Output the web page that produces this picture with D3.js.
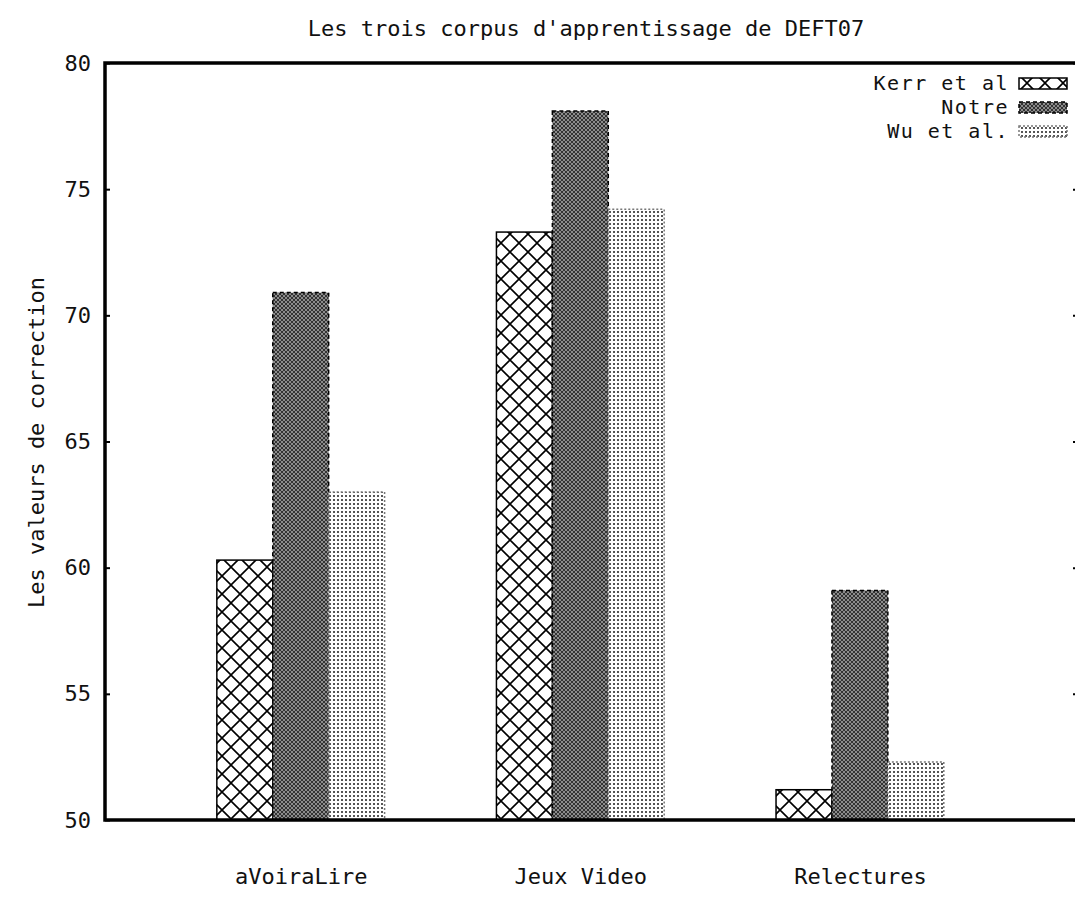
<!DOCTYPE html>
<html>
<head>
<meta charset="utf-8">
<script src="https://cdn.jsdelivr.net/npm/d3@7"></script>
<style>
  body { margin: 0; background: #fff; }
  text { font-family: "DejaVu Sans Mono", "Liberation Mono", monospace; fill: #111; }
</style>
</head>
<body>
<div id="chart"></div>
<script>
// Data
const categories = ['aVoiraLire', 'Jeux Video', 'Relectures'];
const seriesNames = ['Kerr et al', 'Notre', 'Wu et al.'];
const kerrValues = [60.3, 73.3, 51.2];
const notreValues = [70.9, 78.1, 59.1];
const wuValues = [63.0, 74.2, 52.3];
const yTicks = [50, 55, 60, 65, 70, 75, 80];

class GroupedBars {
  constructor(_config) {
    this.config = {
      parentElement: _config.parentElement,
      containerWidth: 1075,
      containerHeight: 899,
      margin: {top: 63, right: -3, bottom: 79, left: 105},
      barWidth: 0.2
    };
    this.initVis();
  }

  initVis() {
    let vis = this;
    vis.width = vis.config.containerWidth - vis.config.margin.left - vis.config.margin.right;
    vis.height = vis.config.containerHeight - vis.config.margin.top - vis.config.margin.bottom;

    vis.svg = d3.select(vis.config.parentElement).append('svg')
        .attr('width', vis.config.containerWidth)
        .attr('height', vis.config.containerHeight);

    vis.chart = vis.svg.append('g')
        .attr('transform', `translate(${vis.config.margin.left},${vis.config.margin.top})`);

    // category index on a linear scale, like gnuplot does it
    vis.xScale = d3.scaleLinear().domain([-0.7, 2.78]).range([0, vis.width]);
    vis.yScale = d3.scaleLinear().domain([50, 80]).range([vis.height, 0]);

    // fill patterns
    const defs = vis.svg.append('defs');
    const cross = defs.append('pattern').attr('id', 'p-cross')
        .attr('patternUnits', 'userSpaceOnUse').attr('width', 18).attr('height', 18);
    cross.append('rect').attr('width', 18).attr('height', 18).attr('fill', '#fff');
    cross.append('path').attr('d', 'M0,0L18,18M18,0L0,18M-2,2L2,-2M16,20L20,16')
        .attr('stroke', '#000').attr('stroke-width', 1.6);

    const dense = defs.append('pattern').attr('id', 'p-dense')
        .attr('patternUnits', 'userSpaceOnUse').attr('width', 4).attr('height', 4);
    dense.append('rect').attr('width', 4).attr('height', 4).attr('fill', '#8c8c8c');
    dense.append('rect').attr('width', 2).attr('height', 2).attr('fill', '#333');
    dense.append('rect').attr('x', 2).attr('y', 2).attr('width', 2).attr('height', 2).attr('fill', '#333');

    const dots = defs.append('pattern').attr('id', 'p-dots')
        .attr('patternUnits', 'userSpaceOnUse').attr('width', 4).attr('height', 4);
    dots.append('rect').attr('width', 4).attr('height', 4).attr('fill', '#fff');
    dots.append('rect').attr('width', 2).attr('height', 2).attr('fill', '#555');

    vis.series = [
      {name: seriesNames[0], values: kerrValues, fill: 'url(#p-cross)', dash: null, stroke: '#000', offset: -1},
      {name: seriesNames[1], values: notreValues, fill: 'url(#p-dense)', dash: '4,3', stroke: '#000', offset: 0},
      {name: seriesNames[2], values: wuValues, fill: 'url(#p-dots)', dash: '2,2', stroke: '#777', offset: 1}
    ];

    vis.renderVis();
  }

  renderVis() {
    let vis = this;
    const bw = vis.config.barWidth;

    // bars
    vis.chart.selectAll('.series')
        .data(vis.series)
      .join('g')
        .attr('class', 'series')
      .selectAll('rect')
        .data(s => s.values.map((v, i) => ({s, v, i})))
      .join('rect')
        .attr('x', d => vis.xScale(d.i + d.s.offset * bw - bw / 2))
        .attr('width', d => vis.xScale(bw) - vis.xScale(0))
        .attr('y', d => vis.yScale(d.v))
        .attr('height', d => vis.height - vis.yScale(d.v))
        .attr('fill', d => d.s.fill)
        .attr('stroke', d => d.s.stroke)
        .attr('stroke-width', 1.5)
        .attr('stroke-dasharray', d => d.s.dash);

    // y axis left, mirrored ticks on right
    const yAxis = vis.chart.append('g')
        .call(d3.axisLeft(vis.yScale).tickValues(yTicks).tickSize(-5).tickPadding(14).tickFormat(d3.format('d')));
    yAxis.select('.domain').remove();
    yAxis.selectAll('.tick line').attr('stroke', '#000').attr('stroke-width', 2);
    yAxis.selectAll('.tick text').attr('font-size', 22).attr('font-family', '"DejaVu Sans Mono", monospace');

    vis.chart.append('g')
        .attr('transform', `translate(${vis.width},0)`)
        .call(d3.axisRight(vis.yScale).tickValues(yTicks).tickSize(-5).tickFormat(''))
        .call(g => g.select('.domain').remove())
        .selectAll('.tick line').attr('stroke', '#000').attr('stroke-width', 2);

    // x category labels
    const xAxis = vis.chart.append('g')
        .attr('transform', `translate(0,${vis.height})`)
        .call(d3.axisBottom(vis.xScale).tickValues(d3.range(categories.length))
          .tickSize(0).tickPadding(48).tickFormat(i => categories[i]));
    xAxis.select('.domain').remove();
    xAxis.selectAll('.tick text').attr('font-size', 22).attr('font-family', '"DejaVu Sans Mono", monospace');

    // frame: left, top, bottom
    vis.chart.append('path')
        .attr('d', `M${vis.width + 5},0H0V${vis.height}H${vis.width + 5}`)
        .attr('fill', 'none')
        .attr('stroke', '#000')
        .attr('stroke-width', 3.5);

    // title and axis label
    vis.svg.append('text')
        .attr('x', 586).attr('y', 36)
        .attr('text-anchor', 'middle')
        .attr('font-size', 22)
        .text("Les trois corpus d'apprentissage de DEFT07");

    vis.svg.append('text')
        .attr('transform', `translate(44,${vis.config.margin.top + vis.height / 2 + 1}) rotate(-90)`)
        .attr('text-anchor', 'middle')
        .attr('font-size', 22)
        .text('Les valeurs de correction');

    // legend
    const legend = vis.svg.append('g')
        .attr('transform', 'translate(1009,83)');
    const rows = legend.selectAll('.legend-row')
        .data(vis.series)
      .join('g')
        .attr('class', 'legend-row')
        .attr('transform', (d, i) => `translate(0,${i * 24})`);
    rows.append('text')
        .attr('text-anchor', 'end')
        .attr('dy', '0.35em')
        .attr('font-size', 20)
        .attr('letter-spacing', 1.5)
        .text(d => d.name);
    rows.append('rect')
        .attr('x', 10).attr('y', -5)
        .attr('width', 48).attr('height', 11)
        .attr('fill', d => d.fill)
        .attr('stroke', d => d.stroke)
        .attr('stroke-width', 1.5)
        .attr('stroke-dasharray', d => d.dash);
  }
}

new GroupedBars({parentElement: '#chart'});
</script>
</body>
</html>
